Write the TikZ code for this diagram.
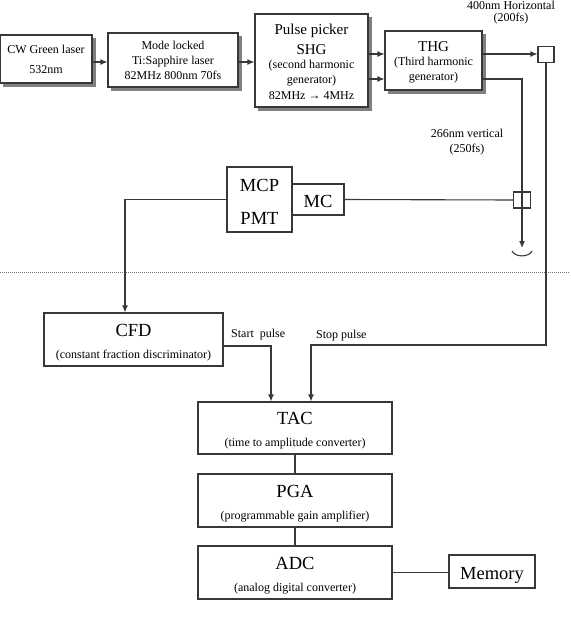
\documentclass[tikz,border=0pt]{standalone}
\usepackage{fontspec}
\setmainfont{Liberation Serif}
\usetikzlibrary{arrows.meta}
\pgfdeclarelayer{background}
\pgfsetlayers{background,main}
\begin{document}
\begin{tikzpicture}[x=1pt,y=-1pt,
  ln/.style={draw=black!78, line width=1.1pt},
  box/.style={ln, rectangle, inner sep=0pt},
  wbox/.style={box, fill=white},
  sbox/.style={wbox},
  shd/.style={fill=black!50},
  arr/.style={ln, -{Latex[length=7pt,width=6pt]}},
  ts/.style={inner sep=0pt, anchor=base, font=\fontsize{12}{14}\selectfont},
  tm/.style={ts, font=\fontsize{15}{18}\selectfont},
  tl/.style={ts, font=\fontsize{18.5}{22}\selectfont},
]
\useasboundingbox (0,0) rectangle (570,634);

% dotted separator
\coordinate (dl) at (0,272);
\coordinate (dr) at (570,272);
\draw[black!55, line width=0.8pt, dash pattern=on 1pt off 1pt] (dl) -- (dr);

% boxes
\node[sbox, minimum width=91.5pt, minimum height=48pt] (cw) at (46.25,59) {};
\node[sbox, minimum width=130pt, minimum height=54pt] (ml) at (173,60) {};
\node[sbox, minimum width=113pt, minimum height=93pt] (pp) at (311.5,60.5) {};
\node[sbox, minimum width=97pt, minimum height=59pt] (thg) at (433.5,60.5) {};
\node[wbox, minimum width=16pt, minimum height=16pt] (sq1) at (546,54.5) {};
\node[box, minimum width=17pt, minimum height=16pt] (sq2) at (522,200) {};
\node[wbox, minimum width=65pt, minimum height=65pt] (mcp) at (259.5,199.5) {};
\node[wbox, minimum width=52pt, minimum height=31pt] (mc) at (318,199.5) {};
\node[wbox, minimum width=179pt, minimum height=53pt] (cfd) at (133.5,339.5) {};
\node[wbox, minimum width=194pt, minimum height=52pt] (tac) at (295,428) {};
\node[wbox, minimum width=194pt, minimum height=53pt] (pga) at (295,500.5) {};
\node[wbox, minimum width=194pt, minimum height=53pt] (adc) at (295,572.5) {};
\node[wbox, minimum width=86pt, minimum height=33pt] (mem) at (492,571.5) {};

% shadows of the upper laser boxes
\begin{pgfonlayer}{background}
\foreach \b in {cw,ml,pp,thg}{
  \fill[shd] ([xshift=3.5pt,yshift=-3.5pt]\b.south west) rectangle ([xshift=3.5pt,yshift=-3.5pt]\b.north east);
}
\end{pgfonlayer}

% texts
\node[ts] (t1) at (46,53.3) {CW Green laser};
\node[ts] (t2) at (46,74) {532nm};
\node[ts] (t3) at (173,49.5) {Mode locked};
\node[ts] (t4) at (173,64) {Ti:Sapphire laser};
\node[ts] (t5) at (173,79) {82MHz 800nm 70fs};
\node[tm] (t6) at (311.5,35) {Pulse picker};
\node[tm] (t7) at (311.5,55) {SHG};
\node[ts] (t8) at (311.5,69) {(second harmonic};
\node[ts] (t9) at (311.5,83) {generator)};
\node[ts] (t10) at (311.5,99) {82MHz → 4MHz};
\node[tm] (t11) at (433.5,52) {THG};
\node[ts] (t12) at (433.5,66) {(Third harmonic};
\node[ts] (t13) at (433.5,81) {generator)};
\node[ts] (t14) at (511,9.5) {400nm Horizontal};
\node[ts] (t15) at (511,22) {(200fs)};
\node[ts] (t16) at (467,137) {266nm vertical};
\node[ts] (t17) at (467,152) {(250fs)};
\node[tl] (t18) at (259.5,191) {MCP};
\node[tl] (t19) at (259.5,224) {PMT};
\node[tl] (t20) at (318,207) {MC};
\node[tl] (t21) at (133.5,336) {CFD};
\node[ts] (t22) at (133.5,358) {(constant fraction discriminator)};
\node[ts, anchor=base west] (t23) at (231,337) {Start~ pulse};
\node[ts, anchor=base west] (t24) at (316,338) {Stop pulse};
\node[tl] (t25) at (295,424) {TAC};
\node[ts] (t26) at (295,446) {(time to amplitude converter)};
\node[tl] (t27) at (295,497) {PGA};
\node[ts] (t28) at (295,519) {(programmable gain amplifier)};
\node[tl] (t29) at (295,569) {ADC};
\node[ts] (t30) at (295,591) {(analog digital converter)};
\node[tl] (t31) at (492,579) {Memory};

% connectors (top chain)
\draw[arr] ([yshift=-3pt]cw.east) -- ([yshift=-3pt]cw.east -| ml.west);
\draw[arr] ([yshift=-2pt]ml.east) -- ([yshift=-2pt]ml.east -| pp.west);
\draw[arr] ([yshift=6.5pt]pp.east) -- ([yshift=6.5pt]pp.east -| thg.west);
\draw[arr] ([yshift=-18.5pt]pp.east) -- ([yshift=-18.5pt]pp.east -| thg.west);
\draw[arr] ([yshift=6.5pt]thg.east) -- ([yshift=6.5pt]thg.east -| sq1.west);

% 266 nm path to detector
\coordinate (det) at (522,248);
\draw[arr] ([yshift=-18.5pt]thg.east) -| (det);
\draw[ln] (512,251) .. controls (515,257.5) and (529,257.5) .. (532,251);

% MC to second square
\draw[ln] (mc.east) -- (sq2.west);

% MCP to CFD
\coordinate (k1) at (125,199.5);
\draw[arr] (mcp.west) -- (k1) -- (k1 |- cfd.north);

% stop pulse
\coordinate (k2) at (546,345);
\coordinate (k3) at (311,345);
\draw[arr] (sq1.south) -- (k2) -- (k3) -- (k3 |- tac.north);

% start pulse
\coordinate (k4) at (271,346);
\draw[arr] (k4 -| cfd.east) -- (k4) -- (k4 |- tac.north);

% lower chain
\draw[ln] (tac.south) -- (pga.north);
\draw[ln] (pga.south) -- (adc.north);
\draw[ln] (adc.east) -- (adc.east -| mem.west);
\end{tikzpicture}
\end{document}
